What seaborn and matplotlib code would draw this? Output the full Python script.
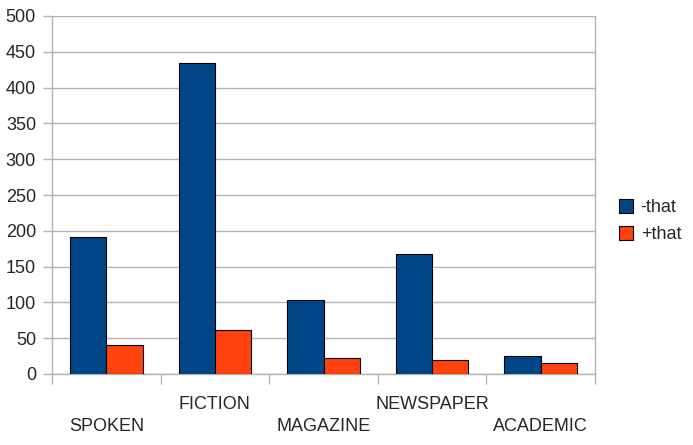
import pandas as pd
import matplotlib
matplotlib.use("Agg")
import matplotlib.pyplot as plt
import seaborn as sns

# -------------------------------
# data
# -------------------------------
genres = ["SPOKEN", "FICTION", "MAGAZINE", "NEWSPAPER", "ACADEMIC"]
minus_that = [191, 435, 103, 167, 25]
plus_that = [40, 62, 22, 19, 16]
series = ["-that", "+that"]
colors = ["#004586", "#ff420e"]

df = pd.DataFrame({
    "genre": genres * 2,
    "count": minus_that + plus_that,
    "series": [series[0]] * len(genres) + [series[1]] * len(genres),
})

sns.set_style("white")
plt.rcParams["font.family"] = ["Liberation Sans", "DejaVu Sans"]
grid_col = "#b3b3b3"

fig = plt.figure(figsize=(6.93, 4.45), dpi=100)
ax = fig.add_axes([52 / 693, 1 - 374 / 445, (595 - 52) / 693, (374 - 16) / 445])

sns.barplot(data=df, x="genre", y="count", hue="series", order=genres,
            hue_order=series, palette=colors, width=0.67, gap=0,
            edgecolor="black", linewidth=0.8, saturation=1, ax=ax, zorder=3)

# y axis
ax.set_ylim(0, 500)
ax.set_yticks(range(0, 501, 50))
ax.yaxis.grid(True, color=grid_col, linewidth=1, zorder=0)
ax.set_axisbelow(True)
ax.tick_params(axis="y", length=6.5, color=grid_col, width=1, pad=5,
               labelsize=13, left=True)

# x axis: labels at centers (staggered), tick marks at category boundaries
ax.set_xlim(-0.5, len(genres) - 0.5)
ax.set_xticks(range(len(genres)))
labels = [("\n" + g) if i % 2 == 0 else (g + "\n") for i, g in enumerate(genres)]
ax.set_xticklabels(labels, linespacing=1.35)
ax.tick_params(axis="x", which="major", length=0, pad=16, labelsize=13)
ax.set_xticks([i - 0.5 for i in range(len(genres) + 1)], minor=True)
ax.tick_params(axis="x", which="minor", length=7.5, color=grid_col, width=1,
               bottom=True)
ax.set_xlabel("")
ax.set_ylabel("")

for side in ["left", "right", "bottom"]:
    ax.spines[side].set_color(grid_col)
    ax.spines[side].set_linewidth(1)
ax.spines["top"].set_visible(False)

# legend on the right
handles, lbls = ax.get_legend_handles_labels()
ax.legend_.remove()
fig.legend(handles, lbls, loc="center left", bbox_to_anchor=(619 / 693, 0.503),
           frameon=False, fontsize=13, borderpad=0, borderaxespad=0,
           handlelength=0.8, handleheight=0.8, handletextpad=0.4,
           labelspacing=0.55)

plt.savefig("out.png", dpi=100)
